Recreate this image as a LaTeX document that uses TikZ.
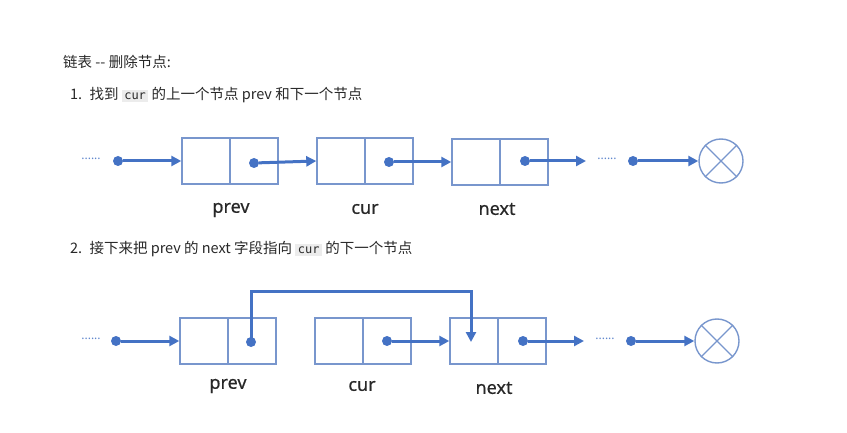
\documentclass[tikz,border=0pt]{standalone}
\usepackage{fontspec}
\setmainfont{Noto Sans CJK SC}
\newfontfamily\latinfont{Noto Sans}
\newfontfamily\tagfont[FakeBold=0.5]{Noto Sans}
\setmonofont{DejaVu Sans Mono}
\definecolor{linkblue}{RGB}{68,114,196}
\definecolor{cellblue}{RGB}{120,150,205}
\definecolor{codegray}{RGB}{236,236,236}
\definecolor{inkgray}{RGB}{40,40,40}
\usetikzlibrary{arrows.meta,positioning}
\newcommand{\inlinecode}[1]{{\setlength{\fboxsep}{2.5pt}\colorbox{codegray}{\ttfamily\fontsize{12}{14}\selectfont #1}}}

\begin{document}
\begin{tikzpicture}[x=1pt, y=-1pt,
    cell/.style={rectangle, draw=cellblue, line width=1.4pt, minimum width=96pt,
      minimum height=46pt, inner sep=0pt},
    dot/.style={circle, fill=linkblue, inner sep=0pt, minimum size=10pt},
    link/.style={draw=linkblue, line width=3pt, -{Triangle[length=10pt,width=10pt]}},
    nullnode/.style={circle, draw=cellblue, line width=1.4pt, minimum size=44pt, inner sep=0pt},
    more/.style={text=linkblue!85, font=\latinfont\bfseries\fontsize{12}{12}\selectfont, inner sep=0pt},
    tag/.style={text=inkgray, font=\tagfont\fontsize{18}{20}\selectfont},
    line/.style={anchor=west, inner sep=0pt, text=inkgray, font=\fontsize{14.5}{17}\selectfont}
  ]
    \useasboundingbox (0,0) rectangle (847,433);

    % Text
    \node[line] (title) at (63,62) {链表 -{}- 删除节点:};
    \node[line] (step1) at (70,95) {1.\enspace 找到 \inlinecode{cur} 的上一个节点 prev 和下一个节点};
    \node[line] (step2) at (70,249) {2.\enspace 接下来把 prev 的 next 字段指向 \inlinecode{cur} 的下一个节点};

    % Row 1
    \node[more] (m1a) at (91,159) {......};
    \node[dot] (d1a) at (118,161) {};
    \node[cell] (prev1) at (230,161) {};
    \node[dot] (d1b) at (254,163) {};
    \node[cell] (cur1) at (365,161) {};
    \node[dot] (d1c) at (389,162) {};
    \node[cell] (next1) at (500,162) {};
    \node[dot] (d1d) at (525,161) {};
    \coordinate (e1) at (586,161);
    \node[more] (m1b) at (607,159) {......};
    \node[dot] (d1e) at (633,161) {};
    \node[nullnode] (nil1) at (721,161) {};
    \draw[cellblue, line width=1.2pt] (prev1.north) -- (prev1.south);
    \draw[cellblue, line width=1.2pt] (cur1.north) -- (cur1.south);
    \draw[cellblue, line width=1.2pt] (next1.north) -- (next1.south);
    \draw[cellblue, line width=1.2pt] (nil1.north west) -- (nil1.south east);
    \draw[cellblue, line width=1.2pt] (nil1.north east) -- (nil1.south west);
    \draw[link] (d1a) -- (prev1);
    \draw[link] (d1b) -- (cur1.west);
    \draw[link] (d1c) -- (next1);
    \draw[link] (d1d) -- (e1);
    \draw[link] (d1e) -- (nil1);
    \node[tag] (l1a) at (231,210) {prev};
    \node[tag] (l1b) at (365,209) {cur};
    \node[tag] (l1c) at (497,209) {next};

    % Row 2 -- prev skips cur
    \node[more] (m2a) at (91,339) {......};
    \node[dot] (d2a) at (116,341) {};
    \node[cell] (prev2) at (228,341) {};
    \node[dot] (d2b) at (251,342) {};
    \node[cell] (cur2) at (363,341) {};
    \node[dot] (d2c) at (387,341) {};
    \node[cell] (next2) at (498,341) {};
    \node[dot] (d2d) at (523,341) {};
    \coordinate (e2) at (584,341);
    \node[more] (m2b) at (605,339) {......};
    \node[dot] (d2e) at (631,341) {};
    \node[nullnode] (nil2) at (717,341) {};
    \coordinate (hop) at (471,291);
    \coordinate (tgt) at (471,342);
    \draw[cellblue, line width=1.2pt] (prev2.north) -- (prev2.south);
    \draw[cellblue, line width=1.2pt] (cur2.north) -- (cur2.south);
    \draw[cellblue, line width=1.2pt] (next2.north) -- (next2.south);
    \draw[cellblue, line width=1.2pt] (nil2.north west) -- (nil2.south east);
    \draw[cellblue, line width=1.2pt] (nil2.north east) -- (nil2.south west);
    \draw[link] (d2a) -- (prev2);
    \draw[link] (d2b.center) |- (hop) -- (tgt);
    \draw[link] (d2c) -- (next2);
    \draw[link] (d2d) -- (e2);
    \draw[link] (d2e) -- (nil2);
    \node[tag] (l2a) at (228,386) {prev};
    \node[tag] (l2b) at (362,386) {cur};
    \node[tag] (l2c) at (494,388) {next};
\end{tikzpicture}
\end{document}
